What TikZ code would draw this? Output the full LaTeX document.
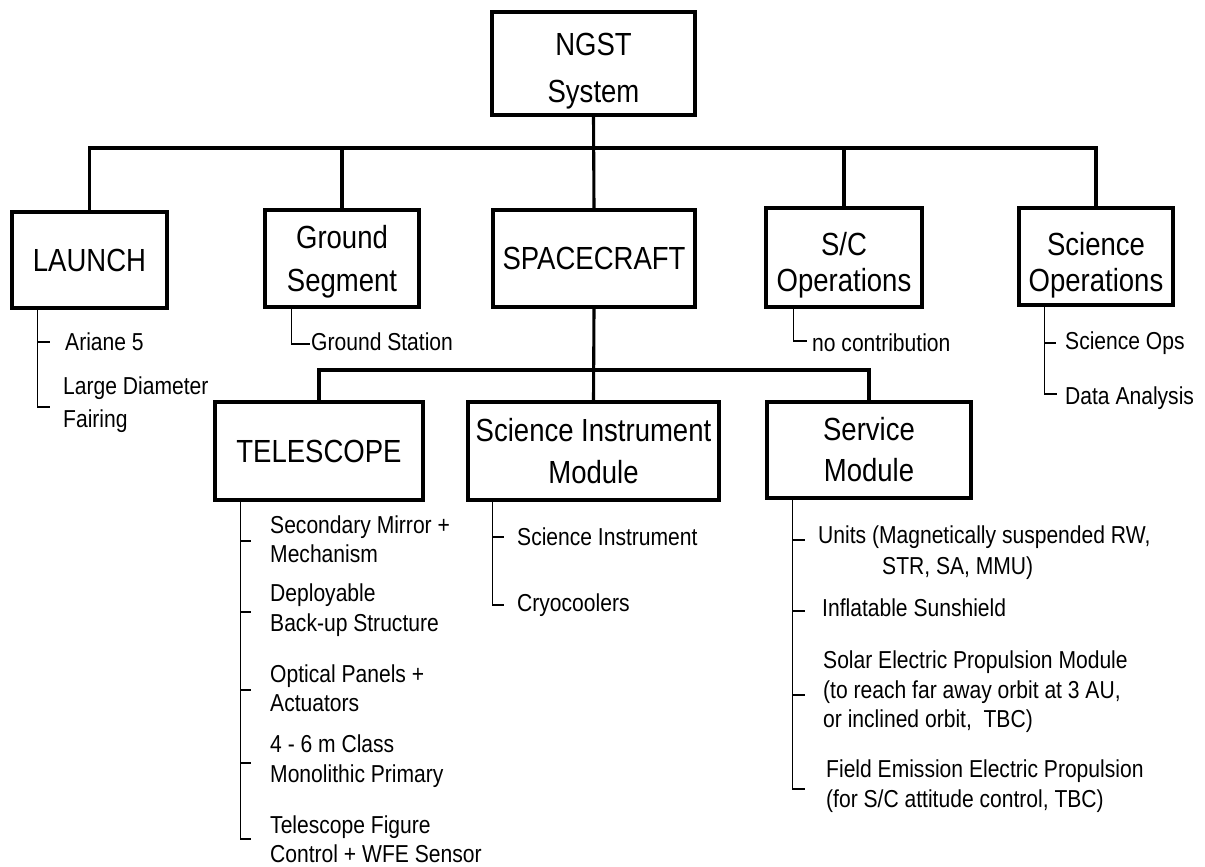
\documentclass[tikz,border=0pt]{standalone}
\usepackage{fontspec}
\setmainfont{Liberation Sans}[FakeStretch=0.86]
\newcommand\bfs[1]{\fontsize{32}{#1}\selectfont}
\newcommand\itemfont{\fontsize{24.5}{29.5}\selectfont}
\tikzset{
  box/.style={draw, line width=3.1pt, inner sep=0pt, align=center},
  item/.style={anchor=west, align=left, inner sep=0pt, font=\itemfont},
  conn/.style={line width=3.1pt},
  trunk/.style={line width=1.6pt}
}
\begin{document}
\begin{tikzpicture}[x=1pt,y=-1pt]
\useasboundingbox[fill=white] (0,0) rectangle (1205,867);

% ---- boxes ----
\node[box, font={\bfs{47}}, minimum width=203pt, minimum height=103pt] (ngst) at (593.5,63.5) {\rule{0pt}{37pt}NGST\\System};
\node[box, font={\bfs{40}}, minimum width=155pt, minimum height=96pt] (launch) at (89.5,260) {LAUNCH};
\node[box, font={\bfs{43}}, minimum width=154pt, minimum height=97pt] (ground) at (342,258.5) {\rule{0pt}{29pt}Ground\\Segment};
\node[box, font={\bfs{40}}, minimum width=202pt, minimum height=97pt] (space) at (594,258.5) {SPACECRAFT};
\node[box, font={\bfs{36}}, minimum width=156pt, minimum height=99pt] (scops) at (844,257.5) {\rule{0pt}{39pt}S/C\\Operations};
\node[box, font={\bfs{36}}, minimum width=154pt, minimum height=97pt] (sciops) at (1096,256.5) {\rule{0pt}{40pt}Science\\Operations};
\node[box, font={\bfs{40}}, minimum width=208pt, minimum height=98pt] (tele) at (319,451) {TELESCOPE};
\node[box, font={\bfs{42}}, minimum width=251pt, minimum height=98pt] (sim) at (593.5,451) {Science Instrument\\Module};
\node[box, font={\bfs{41}}, minimum width=204pt, minimum height=96pt] (serv) at (869,450) {Service\\Module};

% ---- main tree connectors ----
\coordinate (bus) at (593,148);
\coordinate (sub) at (593,370);
\draw[conn] (ngst.south) -- (space.north);
\draw[conn] (launch.north) -- (launch.north |- bus) -- (sciops.north |- bus) -- (sciops.north);
\draw[conn] (ground.north) -- (ground.north |- bus);
\draw[conn] (scops.north) -- (scops.north |- bus);
\draw[conn] (space.south) -- (sim.north);
\draw[conn] (tele.north) -- (tele.north |- sub) -- (serv.north |- sub) -- (serv.north);

% ---- LAUNCH list ----
\coordinate (lt) at ([xshift=27pt]launch.south west);
\node[item] (l1) at (65,342) {Ariane 5};
\node[item, font={\fontsize{24.5}{33}\selectfont}] (l2) at (63,405) {Large Diameter\\Fairing};
\draw[trunk] (lt) -- ([yshift=-2pt]lt |- l2.west) -- ++(13,0);
\draw[trunk] (lt |- l1.west) -- ++(13,0);

% ---- Ground list ----
\coordinate (gt) at ([xshift=28pt]ground.south west);
\node[item] (g1) at (311,342) {Ground Station};
\draw[trunk] (gt) -- ([yshift=-2pt]gt |- g1.west) -- ([xshift=-1pt,yshift=-2pt]g1.west);

% ---- S/C Ops list ----
\coordinate (st) at ([xshift=29pt]scops.south west);
\node[item] (s1) at (812,343) {no contribution};
\draw[trunk] (st) -- ([yshift=2pt]st |- s1.west) -- ([xshift=-5pt,yshift=2pt]s1.west);

% ---- Science Ops list ----
\coordinate (ot) at ([xshift=27pt]sciops.south west);
\node[item] (o1) at (1065,343) {Science Ops};
\node[item] (o2) at (1065,398) {Data Analysis};
\draw[trunk] (ot) -- ([yshift=4pt]ot |- o2.west) -- ++(13,0);
\draw[trunk] (ot |- o1.west) -- ++(12,0);

% ---- TELESCOPE list ----
\coordinate (tt) at ([xshift=27pt]tele.south west);
\node[item] (t1) at (270,539) {Secondary Mirror +\\Mechanism};
\node[item] (t2) at (270,610) {Deployable\\Back-up Structure};
\node[item] (t3) at (270,688) {Optical Panels +\\Actuators};
\node[item] (t4) at (270,761) {4 - 6 m Class\\Monolithic Primary};
\node[item] (t5) at (270,839) {Telescope Figure\\Control + WFE Sensor};
\draw[trunk] (tt) -- (tt |- t5.west) -- ++(11,0);
\foreach \n in {t1,t2,t3,t4}{
  \draw[trunk] ([yshift=-2pt]tt |- \n.west) -- ++(11,0);
}

% ---- SIM list ----
\coordinate (it) at ([xshift=26pt]sim.south west);
\node[item] (i1) at (517,537) {Science Instrument};
\node[item] (i2) at (517,605) {Cryocoolers};
\draw[trunk] (it) -- (it |- i2.west) -- ++(12,0);
\draw[trunk] (it |- i1.west) -- ++(12,0);

% ---- Service list ----
\coordinate (vt) at ([xshift=27pt]serv.south west);
\node[item] (u1) at (818,537) {Units (Magnetically suspended RW,};
\node[item] (u1b) at (882,568) {STR, SA, MMU)};
\node[item] (u2) at (822,608) {Inflatable Sunshield};
\node[item] (u3) at (823,692) {Solar Electric Propulsion Module\\(to reach far away orbit at 3 AU,\\or inclined orbit,\ \ TBC)};
\node[item] (u4) at (826,786) {Field Emission Electric Propulsion\\(for S/C attitude control, TBC)};
\draw[trunk] (vt) -- ([yshift=-3pt]vt |- u4.west) -- ++(13,0);
\foreach \n in {u1,u2,u3}{
  \draw[trunk] ([yshift=-3pt]vt |- \n.west) -- ++(13,0);
}
\end{tikzpicture}
\end{document}
